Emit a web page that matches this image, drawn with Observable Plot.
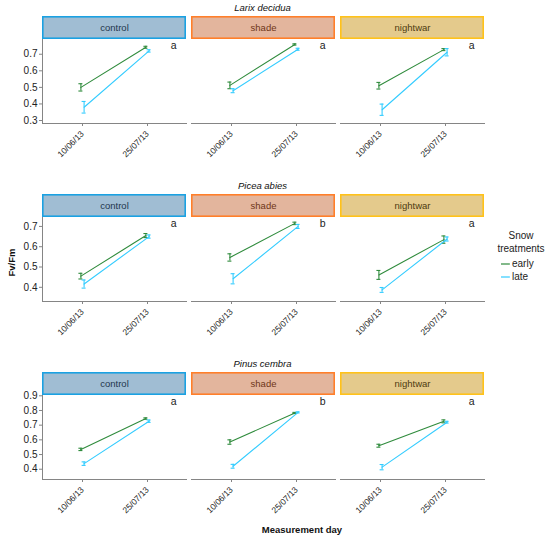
<!DOCTYPE html>
<html>
<head>
<meta charset="utf-8">
<script src="https://cdn.jsdelivr.net/npm/d3@7"></script>
<script src="https://cdn.jsdelivr.net/npm/@observablehq/plot@0.6"></script>
<style>
  body { margin: 0; background: #fff; }
  #fig { position: relative; width: 550px; height: 537px; font-family: "Liberation Sans", Arial, sans-serif; }
  #fig > * { position: absolute; }
  #fig svg { overflow: visible; }
  .title { font-style: italic; font-size: 9.5px; color: #111; width: 443px; left: 41px; text-align: center; }
  .row g[aria-label="x-axis tick label"] { font-size: 8.5px; fill: #222; }
  .row g[aria-label="y-axis tick label"] { font-size: 10px; fill: #222; }
  .legend { left: 492px; top: 230px; font-size: 10px; color: #222; }
  .legend .t { text-align: center; width: 58px; line-height: 12.5px; margin-bottom: 2px; }
  .legend .it { display: flex; align-items: center; height: 13px; margin-left: 9px; }
  .legend svg { margin-right: 2px; }
</style>
</head>
<body>
<div id="fig"></div>
<script>
// facets, x categories, legend groups
const treatments = ["control", "shade", "nightwar"];
const days = ["10/06/13", "25/07/13"];
const snow = ["early", "late"];
const species = ["Larix decidua", "Picea abies", "Pinus cembra"];

// means / standard errors, order: treatment -> snow -> day
const larixMean = [0.500, 0.742, 0.380, 0.720, 0.512, 0.759, 0.480, 0.730, 0.510, 0.728, 0.365, 0.712];
const larixSE   = [0.022, 0.006, 0.035, 0.007, 0.020, 0.004, 0.012, 0.006, 0.020, 0.006, 0.034, 0.022];
const piceaMean = [0.455, 0.655, 0.416, 0.650, 0.547, 0.715, 0.442, 0.700, 0.461, 0.635, 0.387, 0.638];
const piceaSE   = [0.014, 0.010, 0.020, 0.008, 0.018, 0.006, 0.025, 0.010, 0.022, 0.018, 0.012, 0.010];
const pinusMean = [0.535, 0.745, 0.438, 0.727, 0.585, 0.783, 0.420, 0.787, 0.560, 0.726, 0.414, 0.720];
const pinusSE   = [0.008, 0.005, 0.012, 0.008, 0.015, 0.004, 0.013, 0.004, 0.010, 0.010, 0.018, 0.006];

const larixLetters = ["a", "a", "a"];
const piceaLetters = ["a", "b", "a"];
const pinusLetters = ["a", "b", "a"];

const snowColors = ["#2f8b3c", "#33ccff"];
const stripFill = ["#a0bdd3", "#e3b59d", "#e4ca8c"];
const stripStroke = ["#1ba1e2", "#ff7f2a", "#ffc21a"];
const stripText = ["#23364d", "#6e3518", "#4d3a10"];

const rows = [
  {mean: larixMean, se: larixSE, letters: larixLetters, domain: [0.282, 0.789], ticks: [0.3, 0.4, 0.5, 0.6, 0.7]},
  {mean: piceaMean, se: piceaSE, letters: piceaLetters, domain: [0.330, 0.744], ticks: [0.4, 0.5, 0.6, 0.7]},
  {mean: pinusMean, se: pinusSE, letters: pinusLetters, domain: [0.330, 0.902], ticks: [0.4, 0.5, 0.6, 0.7, 0.8, 0.9]}
];
const rowTop = [16.3, 194.3, 372.3];

const fig = document.getElementById("fig");
const W = 550, ML = 41, MR = 66;
const fxOpts = {domain: treatments, paddingInner: 0.034, paddingOuter: 0, axis: null};

function tidy(mean, se) {
  const out = [];
  let i = 0;
  for (const t of treatments) for (const s of snow) for (const d of days) {
    out.push({treatment: t, snow: s, day: d, mean: mean[i], se: se[i]});
    i++;
  }
  return out;
}

function place(el, top, left) {
  el.style.top = top + "px";
  el.style.left = (left ?? 0) + "px";
  fig.appendChild(el);
}

rows.forEach((r, k) => {
  const data = tidy(r.mean, r.se);
  const top = rowTop[k];

  const title = document.createElement("div");
  title.className = "title";
  title.textContent = species[k];
  fig.appendChild(title);
  title.style.top = (top - 14) + "px";

  // strip labels
  const strip = Plot.plot({
    width: W, height: 23,
    marginLeft: ML, marginRight: MR, marginTop: 0, marginBottom: 0,
    x: {type: "band", domain: treatments, paddingInner: 0.034, paddingOuter: 0, axis: null},
    color: {type: "identity"},
    style: {fontFamily: "Liberation Sans, Arial, sans-serif", background: "transparent"},
    marks: [
      Plot.cell(treatments, {x: (d) => d, fill: (d, i) => stripFill[i], stroke: (d, i) => stripStroke[i], strokeWidth: 1.6, inset: 0.8}),
      Plot.text(treatments, {x: (d) => d, text: (d) => d, fill: (d, i) => stripText[i], fontSize: 9.5})
    ]
  });
  place(strip, top);

  // panels
  const panel = Plot.plot({
    width: W, height: 84 + 50,
    marginLeft: ML, marginRight: MR, marginTop: 0, marginBottom: 50,
    fx: fxOpts,
    x: {type: "band", domain: days, paddingInner: 0.94, paddingOuter: 0.57, tickRotate: -45, tickSize: 3, tickPadding: 6, line: true, label: null},
    y: {domain: r.domain, ticks: r.ticks, tickFormat: ".1f", tickSize: 3, tickPadding: 2, line: true, label: null},
    style: {fontFamily: "Liberation Sans, Arial, sans-serif", color: "#858585", background: "transparent"},
    marks: snow.flatMap((s, j) => {
      const sub = data.filter((d) => d.snow === s);
      const dx = j === 0 ? -1.6 : 1.6;
      return [
        Plot.line(sub, {fx: "treatment", x: "day", y: "mean", z: "treatment", stroke: snowColors[j], strokeWidth: 1.1, dx}),
        Plot.ruleX(sub, {fx: "treatment", x: "day", y1: (d) => d.mean - d.se, y2: (d) => d.mean + d.se, stroke: snowColors[j], strokeWidth: 1.1, dx}),
        Plot.tickY(sub, {fx: "treatment", x: "day", y: (d) => d.mean - d.se, stroke: snowColors[j], strokeWidth: 1.1, dx}),
        Plot.tickY(sub, {fx: "treatment", x: "day", y: (d) => d.mean + d.se, stroke: snowColors[j], strokeWidth: 1.1, dx})
      ];
    }).concat([
      Plot.text(treatments.map((t, i) => ({treatment: t, letter: r.letters[i]})),
        {fx: "treatment", text: "letter", frameAnchor: "top-right", dx: -10, dy: 2, fontSize: 10.5, fill: "#222"})
    ])
  });
  panel.classList.add("row");
  place(panel, top + 23);
});

// axis titles
const ylab = document.createElement("div");
ylab.textContent = "Fv/Fm";
ylab.style.cssText = "font-weight:bold;font-size:9.5px;color:#111;left:-4px;top:257px;width:30px;text-align:center;transform:rotate(-90deg);";
fig.appendChild(ylab);

const xlab = document.createElement("div");
xlab.textContent = "Measurement day";
xlab.style.cssText = "font-weight:bold;font-size:9.5px;color:#111;left:242px;top:524px;width:120px;text-align:center;";
fig.appendChild(xlab);

// legend
const leg = document.createElement("div");
leg.className = "legend";
leg.innerHTML = `<div class="t">Snow<br>treatments</div>` + snow.map((s, j) =>
  `<div class="it"><svg width="9" height="4"><line x1="0" x2="9" y1="2" y2="2" stroke="${snowColors[j]}" stroke-width="1.2"/></svg>${s}</div>`
).join("");
fig.appendChild(leg);
</script>
</body>
</html>
